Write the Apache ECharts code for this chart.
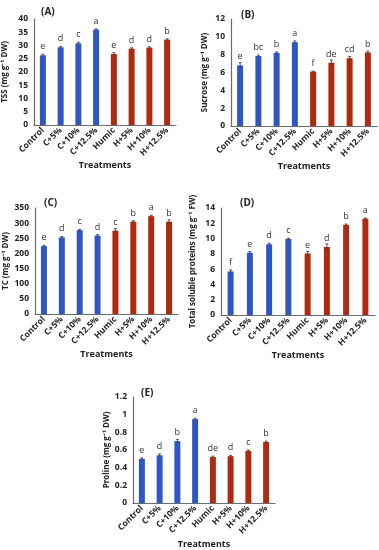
<!DOCTYPE html>
<html><head><meta charset="utf-8">
<script src="https://cdn.jsdelivr.net/npm/echarts@6/dist/echarts.min.js"></script>
<style>html,body{margin:0;padding:0;background:#fff}#c{width:379px;height:550px}</style>
</head><body><div id="c"></div>
<script>
const categories = ["Control","C+5%","C+10%","C+12.5%","Humic","H+5%","H+10%","H+12.5%"];

const tssValues = [26.3, 29.3, 30.8, 36.0, 26.8, 28.8, 29.2, 32.2];
const tssErrors = [0.4, 0.3, 0.4, 0.3, 0.5, 0.3, 0.3, 0.3];
const tssLetters = ["e","d","c","a","e","d","d","b"];

const sucroseValues = [6.8, 7.85, 8.2, 9.4, 6.1, 7.1, 7.6, 8.25];
const sucroseErrors = [0.3, 0.1, 0.1, 0.15, 0.05, 0.3, 0.2, 0.15];
const sucroseLetters = ["e","bc","b","a","f","de","cd","b"];

const tcValues = [224, 253, 277, 259, 275, 305, 323, 305];
const tcErrors = [3, 3, 3, 3, 7, 3, 3, 6];
const tcLetters = ["e","d","c","d","c","b","a","b"];

const proteinValues = [5.7, 8.15, 9.25, 9.95, 8.05, 8.9, 11.8, 12.6];
const proteinErrors = [0.2, 0.15, 0.15, 0.1, 0.25, 0.4, 0.1, 0.1];
const proteinLetters = ["f","e","d","c","e","d","b","a"];

const prolineValues = [0.50, 0.54, 0.70, 0.95, 0.52, 0.53, 0.59, 0.69];
const prolineErrors = [0.01, 0.015, 0.02, 0.01, 0.01, 0.01, 0.01, 0.01];
const prolineLetters = ["e","d","b","a","de","d","c","b"];

const panels = [
  {tag:"(A)", name:"TSS (mg g\u207B\u00B9 DW)", v:tssValues, e:tssErrors, l:tssLetters, max:40, step:5,
   grid:{left:34, top:19, width:142, height:106}, tpos:[36,2]},
  {tag:"(B)", name:"Sucrose (mg g\u207B\u00B9 DW)", v:sucroseValues, e:sucroseErrors, l:sucroseLetters, max:12, step:2,
   grid:{left:231, top:19, width:146, height:107}, tpos:[236,5]},
  {tag:"(C)", name:"TC (mg g\u207B\u00B9 DW)", v:tcValues, e:tcErrors, l:tcLetters, max:350, step:50,
   grid:{left:35, top:208, width:143, height:106}, tpos:[39,193]},
  {tag:"(D)", name:"Total soluble proteins (mg g\u207B\u00B9 FW)", v:proteinValues, e:proteinErrors, l:proteinLetters, max:14, step:2,
   grid:{left:221, top:208, width:154, height:107}, tpos:[235,193]},
  {tag:"(E)", name:"Proline (mg g\u207B\u00B9 DW)", v:prolineValues, e:prolineErrors, l:prolineLetters, max:1.2, step:0.2,
   grid:{left:133, top:397, width:142, height:107}, tpos:[136,383]}
];

const BLUE = "#2f56c2";
const RED = "#ae2a10";
const FONT = "'Open Sans', 'Liberation Sans', sans-serif";
const axisColor = "#6b6b6b";

const grids = [], xAxes = [], yAxes = [], series = [], titles = [];
panels.forEach((p, i) => {
  grids.push(Object.assign({}, p.grid));
  titles.push({text:p.tag, left:p.tpos[0], top:p.tpos[1],
    textStyle:{fontSize:10, fontWeight:'bold', color:'#222', fontFamily:FONT}});
  xAxes.push({type:'category', gridIndex:i, data:categories,
    axisLine:{lineStyle:{color:axisColor, width:1.2}}, axisTick:{show:false},
    axisLabel:{rotate:45, fontSize:8.5, fontWeight:'bold', color:'#222', fontFamily:FONT, margin:4, interval:0},
    name:'Treatments', nameLocation:'middle', nameGap:(i===4?37:35),
    nameTextStyle:{fontSize:9, fontWeight:'bold', color:'#222', fontFamily:FONT}});
  yAxes.push({type:'value', gridIndex:i, min:0, max:p.max, interval:p.step,
    splitLine:{show:false}, axisLine:{show:true, lineStyle:{color:axisColor, width:1.2}},
    axisTick:{show:false},
    axisLabel:{fontSize:8.5, fontWeight:'bold', color:'#222', fontFamily:FONT, margin:6,
      formatter:(val)=>String(Math.round(val*10)/10)},
    name:p.name, nameLocation:'middle', nameRotate:90, nameGap:(i===3?24:(i===2||i===0?25:22)),
    nameTextStyle:{fontSize:8, fontWeight:'bold', color:'#222', fontFamily:FONT}});
  series.push({type:'bar', xAxisIndex:i, yAxisIndex:i, barWidth:6,
    data:p.v.map((val, k) => ({value:val, itemStyle:{color:k<4?BLUE:RED}})),
    label:{show:true, position:'top', distance:4, fontSize:9, color:'#333', fontFamily:FONT,
      formatter:(prm)=>p.l[prm.dataIndex]}, z:2});
  series.push({type:'custom', xAxisIndex:i, yAxisIndex:i, z:3,
    data:p.v.map((val, k) => [k, val, p.e[k]]),
    renderItem:(params, api) => {
      const x = api.value(0), v = api.value(1), e = api.value(2);
      const hi = api.coord([x, v + e]), lo = api.coord([x, v - e]);
      const w = 3;
      const st = {stroke:'#333', lineWidth:0.8};
      return {type:'group', children:[
        {type:'line', shape:{x1:hi[0], y1:hi[1], x2:lo[0], y2:lo[1]}, style:st},
        {type:'line', shape:{x1:hi[0]-w/2, y1:hi[1], x2:hi[0]+w/2, y2:hi[1]}, style:st}
      ]};
    }});
});

const chart = echarts.init(document.getElementById('c'), null, {renderer:'canvas'});
chart.setOption({animation:false, backgroundColor:'#fff', title:titles, grid:grids,
  xAxis:xAxes, yAxis:yAxes, series:series});
</script></body></html>
